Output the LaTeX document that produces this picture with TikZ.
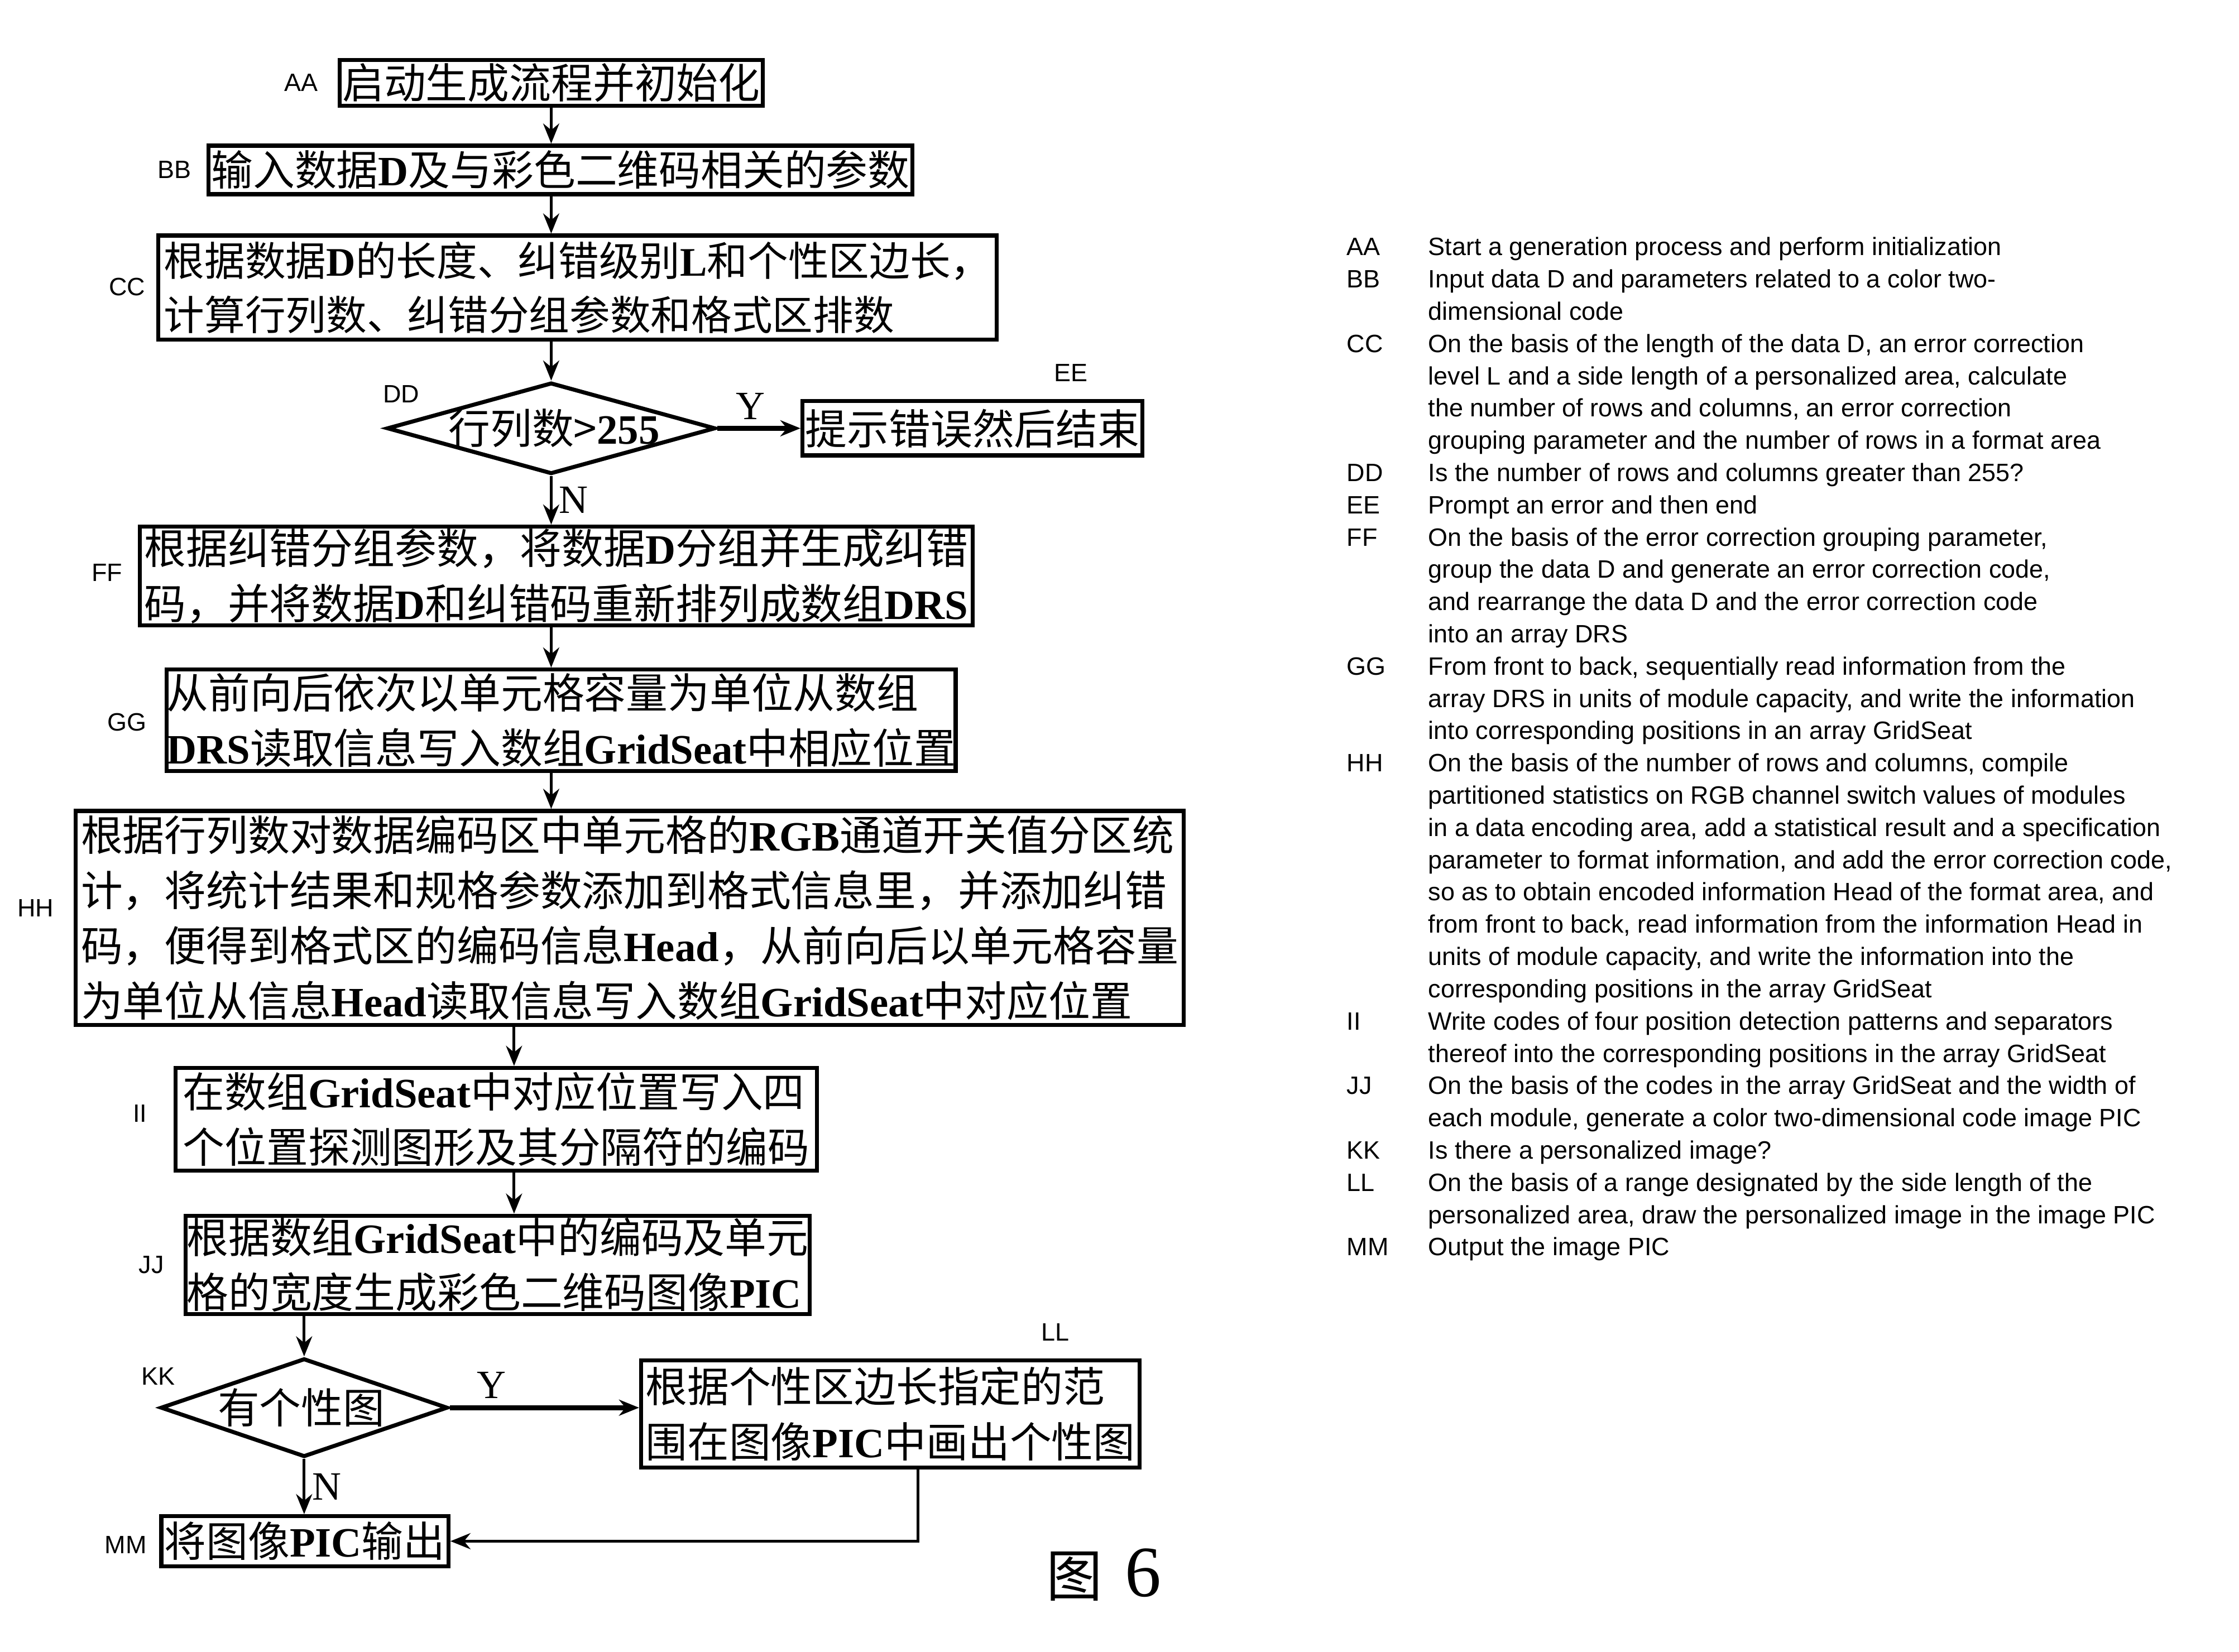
\documentclass[tikz,border=0pt]{standalone}
\usepackage{fontspec}
\newfontfamily\cjk{Noto Sans CJK SC}
\newfontfamily\lat{Liberation Serif}
\newfontfamily\arial{Liberation Sans}
\usetikzlibrary{arrows.meta,shapes.geometric}
\newcommand\B[1]{{\lat\bfseries #1}}
\tikzset{
  every picture/.style={line join=miter, >={Stealth[length=10pt,width=8pt]}},
  box/.style={draw, line width=2pt, inner xsep=0pt, inner ysep=1pt, align=left, font=\cjk\fontsize{20.8}{27.5}\selectfont},
  decision/.style={draw, diamond, line width=2pt, inner sep=0pt},
  tag/.style={font=\arial\fontsize{12.5}{15}\selectfont},
  flow/.style={->, line width=1.4pt},
  yes/.style={->, line width=2.4pt},
  yn/.style={font=\lat\fontsize{20}{20}\selectfont},
}

\begin{document}
\begin{tikzpicture}[x=0.025cm, y=-0.025cm]
\useasboundingbox (0,0) rectangle (1568,1157);
% flow chart
\node[box, minimum width=7.4cm, minimum height=0.8cm] (aa) at (386,58) {启动生成流程并初始化};
\node[box, minimum width=12.325cm, minimum height=0.85cm] (bb) at (392.5,119) {输入数据\B{D}及与彩色二维码相关的参数};
\node[box, minimum width=14.675cm, minimum height=1.825cm, font=\cjk\fontsize{20.2}{27}\selectfont] (cc) at (404.5,201.5) {根据数据\B{D}的长度、纠错级别\B{L}和个性区边长，\\计算行列数、纠错分组参数和格式区排数};
\node[decision, minimum width=5.75cm, minimum height=1.6cm] (dd) at (386,300) {};
\node[box, draw=none] (ddt) at (388,300) {行列数>\B{255}};
\node[box, minimum width=5.95cm, minimum height=0.95cm] (ee) at (681,300) {提示错误然后结束};
\node[box, minimum width=14.575cm, minimum height=1.725cm] (ff) at (389.5,403.5) {根据纠错分组参数，将数据\B{D}分组并生成纠错\\码，并将数据\B{D}和纠错码重新排列成数组\B{DRS}};
\node[box, minimum width=13.8cm, minimum height=1.775cm] (gg) at (393,504.5) {从前向后依次以单元格容量为单位从数组\\\B{DRS}读取信息写入数组\B{GridSeat}中相应位置};
\node[box, minimum width=19.4cm, minimum height=3.75cm] (hh) at (441,643) {根据行列数对数据编码区中单元格的\B{RGB}通道开关值分区统\\计，将统计结果和规格参数添加到格式信息里，并添加纠错\\码，便得到格式区的编码信息\B{Head}，从前向后以单元格容量\\为单位从信息\B{Head}读取信息写入数组\B{GridSeat}中对应位置};
\node[box, minimum width=11.225cm, minimum height=1.8cm] (ii) at (347.5,784) {在数组\B{GridSeat}中对应位置写入四\\个位置探测图形及其分隔符的编码};
\node[box, minimum width=10.925cm, minimum height=1.7cm] (jj) at (348.5,886) {根据数组\B{GridSeat}中的编码及单元\\格的宽度生成彩色二维码图像\B{PIC}};
\node[decision, minimum width=5.025cm, minimum height=1.725cm] (kk) at (213,986) {};
\node[box, draw=none] (kkt) at (211,986) {有个性图};
\node[box, minimum width=8.725cm, minimum height=1.875cm] (ll) at (623.5,990.5) {根据个性区边长指定的范\\围在图像\B{PIC}中画出个性图};
\node[box, minimum width=5.025cm, minimum height=0.875cm] (mm) at (213.5,1079.5) {将图像\B{PIC}输出};

% step tags
\node[tag] (taa) at (211,58) {AA};
\node[tag] (tbb) at (122,119) {BB};
\node[tag] (tcc) at (89,201) {CC};
\node[tag] (tdd) at (281,276) {DD};
\node[tag] (tee) at (750,261) {EE};
\node[tag] (tff) at (75,401) {FF};
\node[tag] (tgg) at (89,506) {GG};
\node[tag] (thh) at (25,636) {HH};
\node[tag] (tii) at (98,780) {II};
\node[tag] (tjj) at (106,886) {JJ};
\node[tag] (tkk) at (111,964) {KK};
\node[tag] (tll) at (739,933) {LL};
\node[tag] (tmm) at (88,1082) {MM};

% connectors
\coordinate (c2) at (360,0);
\coordinate (c3) at (643,0);
\draw[flow] (aa.south) -- (aa.south |- bb.north);
\draw[flow] (aa.south |- bb.south) -- (aa.south |- cc.north);
\draw[flow] (dd.north |- cc.south) -- (dd.north);
\draw[yes] (dd.east) -- (ee.west) node[yn, pos=0.4, above] {Y};
\draw[flow] (dd.south) -- (dd.south |- ff.north) node[yn, midway, right] {N};
\draw[flow] (dd.south |- ff.south) -- (dd.south |- gg.north);
\draw[flow] (dd.south |- gg.south) -- (dd.south |- hh.north);
\draw[flow] (c2 |- hh.south) -- (c2 |- ii.north);
\draw[flow] (c2 |- ii.south) -- (c2 |- jj.north);
\draw[flow] (kk.north |- jj.south) -- (kk.north);
\draw[yes] (kk.east) -- (kk.east -| ll.west) node[yn, pos=0.22, above] {Y};
\draw[flow] (kk.south) -- (kk.south |- mm.north) node[yn, midway, right] {N};
\draw[flow] (c3 |- ll.south) |- (mm.east);

\node (fig) at (773,1103) {{\cjk\fontsize{28}{28}\selectfont 图}\hspace{0.4cm}{\lat\fontsize{36}{36}\selectfont 6}};

% legend
\node[anchor=base west, inner sep=0pt, font=\arial\fontsize{12.5}{16.07}\selectfont] (legend) at (943,179) {%
\begin{tabular}[t]{@{}p{1.425cm}@{}l@{}}
AA & Start a generation process and perform initialization\\
BB & Input data D and parameters related to a color two-\\
   & dimensional code\\
CC & On the basis of the length of the data D, an error correction\\
   & level L and a side length of a personalized area, calculate\\
   & the number of rows and columns, an error correction\\
   & grouping parameter and the number of rows in a format area\\
DD & Is the number of rows and columns greater than 255?\\
EE & Prompt an error and then end\\
FF & On the basis of the error correction grouping parameter,\\
   & group the data D and generate an error correction code,\\
   & and rearrange the data D and the error correction code\\
   & into an array DRS\\
GG & From front to back, sequentially read information from the\\
   & array DRS in units of module capacity, and write the information\\
   & into corresponding positions in an array GridSeat\\
HH & On the basis of the number of rows and columns, compile\\
   & partitioned statistics on RGB channel switch values of modules\\
   & in a data encoding area, add a statistical result and a specification\\
   & parameter to format information, and add the error correction code,\\
   & so as to obtain encoded information Head of the format area, and\\
   & from front to back, read information from the information Head in\\
   & units of module capacity, and write the information into the\\
   & corresponding positions in the array GridSeat\\
II & Write codes of four position detection patterns and separators\\
   & thereof into the corresponding positions in the array GridSeat\\
JJ & On the basis of the codes in the array GridSeat and the width of\\
   & each module, generate a color two-dimensional code image PIC\\
KK & Is there a personalized image?\\
LL & On the basis of a range designated by the side length of the\\
   & personalized area, draw the personalized image in the image PIC\\
MM & Output the image PIC
\end{tabular}};
\end{tikzpicture}
\end{document}
